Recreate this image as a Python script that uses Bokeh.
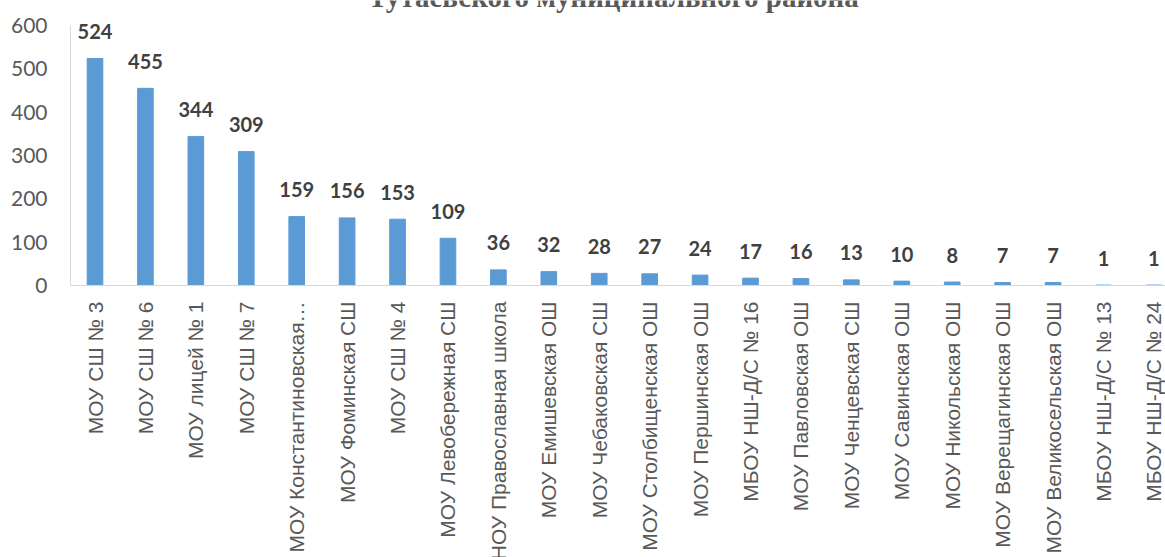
from bokeh.plotting import figure
from bokeh.models import ColumnDataSource, Range1d, FixedTicker, Span
from bokeh.core.properties import value
from bokeh.embed import file_html
from bokeh.resources import INLINE
import math

schools = [
    "МОУ СШ № 3", "МОУ СШ № 6", "МОУ лицей № 1", "МОУ СШ № 7",
    "МОУ Константиновская…", "МОУ Фоминская СШ", "МОУ СШ № 4",
    "МОУ Левобережная СШ", "ЧНОУ Православная школа", "МОУ Емишевская ОШ",
    "МОУ Чебаковская СШ", "МОУ Столбищенская ОШ", "МОУ Першинская ОШ",
    "МБОУ НШ-Д/С № 16", "МОУ Павловская ОШ", "МОУ Ченцевская СШ",
    "МОУ Савинская ОШ", "МОУ Никольская ОШ", "МОУ Верещагинская ОШ",
    "МОУ Великосельская ОШ", "МБОУ НШ-Д/С № 13", "МБОУ НШ-Д/С № 24",
]
counts = [524, 455, 344, 309, 159, 156, 153, 109, 36, 32, 28, 27, 24, 17, 16, 13, 10, 8, 7, 7, 1, 1]
y_ticks = [0, 100, 200, 300, 400, 500, 600]
title_text = "Тутаевского муниципального района"

n = len(schools)
src = ColumnDataSource(dict(
    x=list(range(n)),
    count=counts,
    label=[str(c) for c in counts],
    school=schools,
    zero=[0] * n,
))

p = figure(
    width=1165, height=557,
    output_backend="svg", toolbar_location=None,
    x_range=Range1d(-0.486, 21.23),
    y_range=Range1d(-627.7, 657.7),
    x_axis_location=None,
    min_border_left=70, min_border_right=0,
    min_border_top=0, min_border_bottom=0,
)
p.outline_line_color = None
p.xgrid.visible = False
p.ygrid.visible = False
p.background_fill_color = "white"
p.border_fill_color = "white"

# y axis
ax = p.yaxis[0]
ax.ticker = FixedTicker(ticks=y_ticks)
ax.bounds = (0, 600)
ax.axis_line_color = "#d9d9d9"
ax.major_tick_line_color = None
ax.minor_tick_line_color = None
ax.major_tick_out = 0
ax.major_tick_in = 0
ax.major_label_standoff = 23
ax.major_label_text_font = "Lato"
ax.major_label_text_font_size = "21px"
ax.major_label_text_color = "#595959"

# baseline
p.add_layout(Span(location=0, dimension="width", line_color="#d9d9d9", line_width=1))

# bars
p.vbar(x="x", top="count", bottom=0, width=0.31, source=src,
       fill_color="#5b9bd5", line_color="#5b9bd5")

# value labels
p.text(x="x", y="count", text="label", source=src,
       text_font=value("Lato"), text_font_style="bold", text_font_size="20px",
       text_color="#404040", text_align="center", text_baseline="alphabetic",
       y_offset=-27)

# category labels (rotated, clipped at the bottom like the original)
p.text(x="x", y="zero", text="school", source=src,
       text_font=value("Liberation Sans"), text_font_size="21px",
       text_color="#595959", angle=math.pi / 2,
       text_align="right", text_baseline="middle", y_offset=16)

# title (partly cut off at the top, as in the original)
p.text(x=[10.28], y=[639], text=[title_text], text_align="center",
       text_baseline="alphabetic", text_font=value("Liberation Serif"),
       text_font_style="bold", text_font_size="29px",
       text_color="#595959", y_offset=-12)

open("out.html", "w").write(file_html(p, INLINE))
